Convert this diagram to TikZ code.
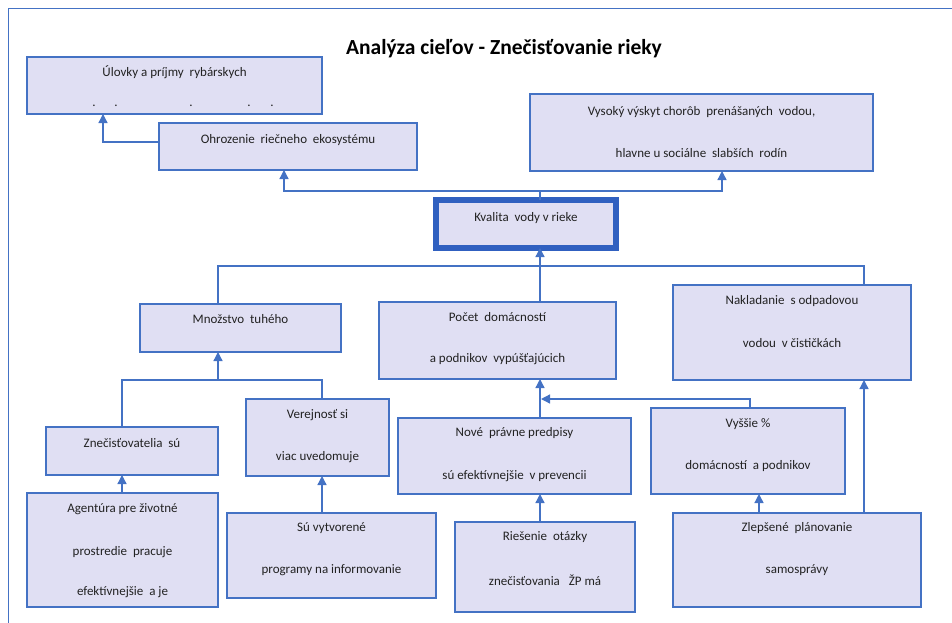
\documentclass[tikz,border=0pt]{standalone}
\usepackage{fontspec}
\setmainfont{Carlito}
\usetikzlibrary{arrows.meta}
\definecolor{edge}{HTML}{4472C4}
\definecolor{thick}{HTML}{3060C0}
\definecolor{boxfill}{HTML}{E0DFF3}
\definecolor{txt}{HTML}{222222}
\tikzset{
  box/.style={draw=edge, fill=boxfill, line width=1.2pt, inner sep=0pt, outer sep=0pt, anchor=north west},
  tx/.style={text=txt, font=\fontsize{13}{15}\selectfont, inner sep=0pt},
  conn/.style={draw=edge, line width=1.3pt},
  arr/.style={conn, -{Triangle[width=9pt,length=9pt]}},
}
\begin{document}
\begin{tikzpicture}[x=1pt,y=-1pt]
\useasboundingbox (0,0) rectangle (952,623);
% outer frame
\draw[edge, line width=1pt] (8,623) -- (8,9) -- (952,9);
% title
\node[font=\bfseries\fontsize{21.5}{24}\selectfont, inner sep=0pt] (title) at (504,49) {Analýza cieľov - Znečisťovanie rieky};
% boxes
\node[box, minimum width=295pt, minimum height=57pt] (ulov) at (27,57) {};
\node[box, minimum width=258pt, minimum height=47pt] (ohr) at (159,123) {};
\node[box, minimum width=343pt, minimum height=77pt] (vys) at (530,94) {};
\node[box, draw=thick, line width=6pt, minimum width=180pt, minimum height=48pt] (kval) at (436,200) {};
\node[box, minimum width=201pt, minimum height=48pt] (mnoz) at (140,304) {};
\node[box, minimum width=237pt, minimum height=77pt] (pocet) at (379,302) {};
\node[box, minimum width=238pt, minimum height=95pt] (nakl) at (673,285) {};
\node[box, minimum width=172pt, minimum height=48pt] (znec) at (46,427) {};
\node[box, minimum width=143pt, minimum height=77pt] (verej) at (246,399) {};
\node[box, minimum width=191pt, minimum height=114pt] (agent) at (27,493) {};
\node[box, minimum width=209pt, minimum height=85pt] (suvyt) at (227,513) {};
\node[box, minimum width=233pt, minimum height=76pt] (nove) at (398,418) {};
\node[box, minimum width=180pt, minimum height=90pt] (ries) at (455,522) {};
\node[box, minimum width=194pt, minimum height=86pt] (vyss) at (651,408) {};
\node[box, minimum width=248pt, minimum height=94pt] (zlep) at (673,513) {};
% texts
\node[tx] (t1) at (174.5,72) {Úlovky a príjmy~ rybárskych};
\foreach \dx/\n in {94/a,116/b,191/c,249/d,272/e} \node[tx] (dot\n) at (\dx,106) {.};
\node[tx] (t2) at (288,140) {Ohrozenie~ riečneho~ ekosystému};
\node[tx] (t3a) at (701.5,112) {Vysoký výskyt chorôb~ prenášaných~ vodou,};
\node[tx] (t3b) at (701.5,153) {hlavne u sociálne~ slabších~ rodín};
\node[tx] (t4) at (526,218) {Kvalita~ vody v rieke};
\node[tx] (t5) at (240.5,319) {Množstvo~ tuhého};
\node[tx] (t6a) at (497.5,317) {Počet~ domácností};
\node[tx] (t6b) at (497.5,359) {a podnikov~ vypúšťajúcich};
\node[tx] (t7a) at (792,301) {Nakladanie~ s odpadovou};
\node[tx] (t7b) at (792,343) {vodou~ v čističkách};
\node[tx] (t8) at (132,443) {Znečisťovatelia~ sú};
\node[tx] (t9a) at (317.5,415) {Verejnosť si};
\node[tx] (t9b) at (317.5,457) {viac uvedomuje};
\node[tx] (t10a) at (122.5,509) {Agentúra pre životné};
\node[tx] (t10b) at (122.5,552) {prostredie~ pracuje};
\node[tx] (t10c) at (122.5,592) {efektívnejšie~ a je};
\node[tx] (t11a) at (331.5,528) {Sú vytvorené};
\node[tx] (t11b) at (331.5,570) {programy na informovanie};
\node[tx] (t12a) at (514.5,433) {Nové~ právne predpisy};
\node[tx] (t12b) at (514.5,476) {sú efektívnejšie~ v prevencii};
\node[tx] (t13a) at (545,537) {Riešenie~ otázky};
\node[tx] (t13b) at (545,580) {znečisťovania~~ ŽP má};
\node[tx] (t14a) at (748,424) {Vyššie \%};
\node[tx] (t14b) at (748,466) {domácností~ a podnikov};
\node[tx] (t15a) at (797,528) {Zlepšené~ plánovanie};
\node[tx] (t15b) at (797,570) {samosprávy};
% junction coordinates
\coordinate (j1) at (103,142);
\coordinate (k1) at (540,191);
\coordinate (k2) at (284,191);
\coordinate (k3) at (722,191);
\coordinate (m0) at (540,266);
\coordinate (m1) at (218,266);
\coordinate (m2) at (864,266);
\coordinate (n0) at (218,380);
\coordinate (n1) at (122,380);
\coordinate (n2) at (322,380);
\coordinate (p0) at (540,399);
\coordinate (p1) at (750,399);
\coordinate (q1) at (759,0);
% connectors
\draw[arr] (ohr.west |- j1) -- (j1) -- (j1 |- ulov.south);
\draw[conn] (kval.north -| k1) -- (k1);
\draw[arr] (k1) -- (k2) -- (k2 |- ohr.south);
\draw[arr] (k1) -- (k3) -- (k3 |- vys.south);
\draw[arr] (pocet.north -| m0) -- (m0 |- kval.south);
\draw[conn] (mnoz.north -| m1) -- (m1) -- (m2) -- (m2 |- nakl.north);
\draw[conn] (znec.north -| n1) -- (n1) -- (n2) -- (n2 |- verej.north);
\draw[arr] (n0) -- (n0 |- mnoz.south);
\draw[arr] (agent.north -| n1) -- (n1 |- znec.south);
\draw[arr] (suvyt.north -| n2) -- (n2 |- verej.south);
\draw[arr] (nove.north -| p0) -- (p0 |- pocet.south);
\draw[arr] (vyss.north -| p1) -- (p1) -- ([xshift=1pt]p0);
\draw[arr] (ries.north -| p0) -- (p0 |- nove.south);
\draw[arr] (zlep.north -| q1) -- (q1 |- vyss.south);
\draw[arr] (zlep.north -| m2) -- (m2 |- nakl.south);
\end{tikzpicture}
\end{document}
